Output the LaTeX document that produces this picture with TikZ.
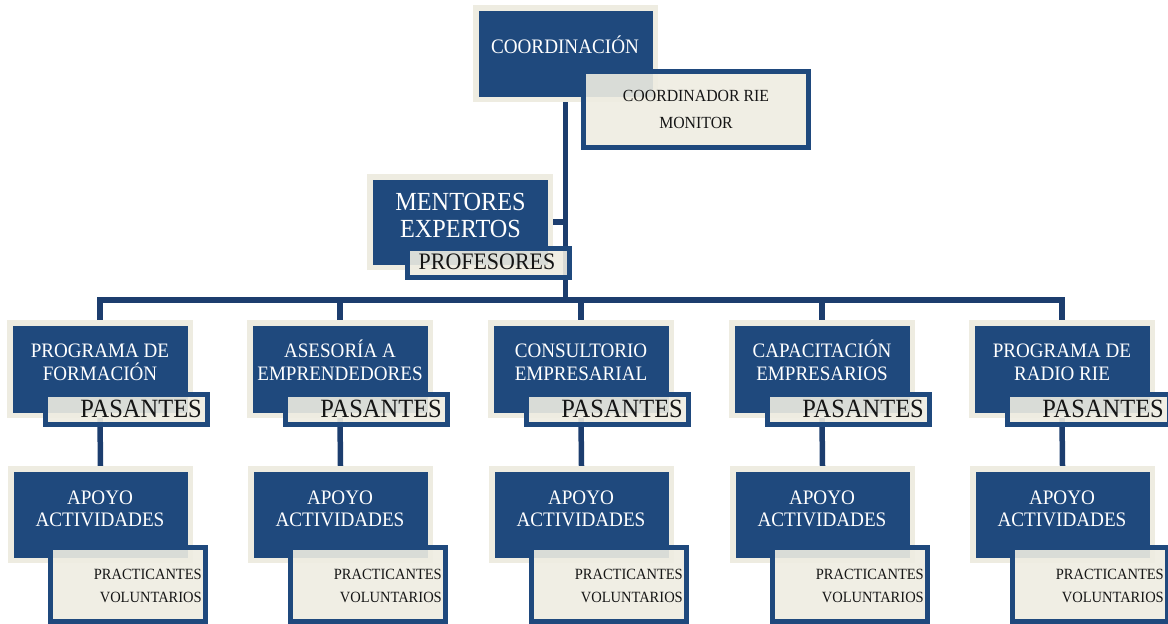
\documentclass[tikz,border=0pt]{standalone}
\usepackage{fontspec}
\setmainfont{Liberation Serif}[FakeStretch=0.93]
\usetikzlibrary{backgrounds}
\definecolor{boxblue}{HTML}{1F497D}
\definecolor{cream}{HTML}{EEECE1}
\definecolor{linkblue}{HTML}{1C3D6E}
\definecolor{ink}{HTML}{151515}
\tikzset{
  bluebox/.style={rectangle, fill=boxblue, draw=cream, line width=5.5pt, inner sep=0pt},
  tagbox/.style={rectangle, fill=cream, fill opacity=0.9, draw=boxblue, line width=5pt, inner sep=0pt},
  whitetext/.style={text=white, inner sep=0pt, align=center},
  darktext/.style={text=ink, inner sep=0pt},
  link/.style={draw=linkblue, line width=5.5pt},
}
\begin{document}
\begin{tikzpicture}[x=1pt,y=-1pt]
\useasboundingbox (0,0) rectangle (1168,624);
% top
\node[bluebox, minimum width=179.5pt, minimum height=91.5pt] (coord) at (565.5,53.5) {};
\node[whitetext, anchor=base, font=\fontsize{20.6}{24}\selectfont] (coordt) at (565,53.8) {COORDINACIÓN};
\node[tagbox, minimum width=225pt, minimum height=76pt] (cr) at (696,109.5) {};
\node[darktext, align=center, font=\fontsize{17}{27}\selectfont] (crt) at (696,109.5) {COORDINADOR RIE\\MONITOR};
% mentores
\node[bluebox, minimum width=180.5pt, minimum height=90.5pt] (ment) at (460,222) {};
\node[whitetext, font=\fontsize{26.1}{27}\selectfont] (mentt) at (460.5,215.5) {MENTORES\\EXPERTOS};
\node[tagbox, minimum width=162pt, minimum height=29pt] (prof) at (488.5,263) {};
\node[darktext, anchor=base, font=\fontsize{23.6}{27}\selectfont] (proft) at (487,269.3) {PROFESORES};
\coordinate (bus) at (565.5,300);
% columns
\foreach \c/\t [count=\i] in {100/{PROGRAMA DE\\FORMACIÓN},340/{ASESOR\smash{Í}A A\\EMPRENDEDORES},581/{CONSULTORIO\\EMPRESARIAL},822/{CAPACITACI\smash{Ó}N\\EMPRESARIOS},1062/{PROGRAMA DE\\RADIO RIE}}{
  \node[bluebox, minimum width=180.5pt, minimum height=92.5pt] (p\i) at (\c,369) {};
  \node[whitetext, font=\fontsize{20.5}{23}\selectfont] (pt\i) at (\c,362.5) {\t};
  \node[tagbox, minimum width=162pt, minimum height=30pt] (ps\i) at ({\c+26.5},409.5) {};
  \node[darktext, anchor=base east, font=\fontsize{26.3}{30}\selectfont] (pst\i) at ({\c+102},417.7) {PASANTES};
  \node[bluebox, minimum width=179.5pt, minimum height=91.5pt] (a\i) at ({\c+0.5},514.5) {};
  \node[whitetext, font=\fontsize{20.6}{22}\selectfont] (at\i) at (\c,509) {APOYO\\ACTIVIDADES};
  \node[tagbox, minimum width=155pt, minimum height=74pt] (v\i) at ({\c+28},584.5) {};
  \node[darktext, align=right, anchor=east, font=\fontsize{15.6}{23}\selectfont] (vt\i) at ({\c+102},585.5) {PRACTICANTES\\VOLUNTARIOS};
}
\begin{scope}[on background layer]
  \draw[link] (coord.south) -- (coord.south |- bus);
  \draw[link] (ment.east) -- (ment.east -| coord.south);
  \draw[link, line join=miter] (p1.north) -- (p1.north |- bus) -- (p5.north |- bus) -- (p5.north);
  \foreach \i in {2,3,4} {\draw[link] (p\i.north |- bus) -- (p\i.north);}
  \foreach \i in {1,...,5} {\draw[link] (p\i.south) -- (a\i.north);}
\end{scope}
\end{tikzpicture}
\end{document}
